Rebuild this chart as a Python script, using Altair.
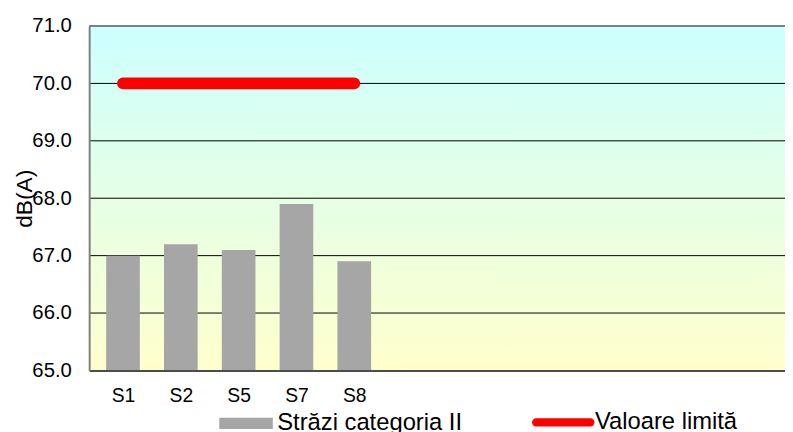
import altair as alt
import pandas as pd

# ---- data ----
categories = ["S1", "S2", "S5", "S7", "S8"]
levels = [67.0, 67.2, 67.1, 67.9, 66.9]
limit_values = [70.0, 70.0, 70.0, 70.0, 70.0]
y_ticks = [65, 66, 67, 68, 69, 70, 71]
Y_MIN, Y_MAX = 65, 71
# category slots: 12 slots, the last one is cut by the picture's right edge
X_DOMAIN = [-0.5, 11.365]
bar_series = "Străzi categoria II"
line_series = "Valoare limită"

FONT = "Liberation Sans"
W, H = 703, 348

idx = list(range(len(categories)))
bars_df = pd.DataFrame({"i": idx, "cat": categories, "val": levels, "series": bar_series})
line_df = pd.DataFrame({"i": idx, "cat": categories, "val": limit_values, "series": line_series})
grid_df = pd.DataFrame({"v": [t for t in y_ticks if Y_MIN < t < Y_MAX]})

cat_array = "[" + ",".join("'" + c + "'" for c in categories) + "]"

x_scale = alt.Scale(domain=X_DOMAIN, nice=False, zero=False)
y_scale = alt.Scale(domain=[Y_MIN, Y_MAX], zero=False, nice=False)

x_axis = alt.Axis(title=None, ticks=False, grid=False, values=idx,
                  labelExpr=cat_array + "[datum.value]",
                  labelFontSize=19.5, labelFont=FONT, labelColor="black",
                  labelPadding=16, labelAngle=0, labelFlush=False, labelOverlap=False,
                  domainColor="#4d4d4d", domainWidth=2, zindex=1)
y_axis = alt.Axis(title="dB(A)", values=y_ticks, format=".1f", ticks=False, grid=False,
                  labelFontSize=20.5, labelFont=FONT, labelColor="black", labelPadding=18,
                  domainColor="#808080", domainWidth=2, zindex=1,
                  titleFont=FONT, titleFontSize=23, titleFontWeight="normal", titleColor="black",
                  titleAngle=270, titleBaseline="middle", titleAlign="center",
                  titleX=-65, titleY=174)

gradient = alt.Gradient(
    gradient="linear",
    stops=[alt.GradientStop(color="#CCFFFF", offset=0),
           alt.GradientStop(color="#FFFFCC", offset=1)],
    x1=0, x2=0, y1=0, y2=1,
)

bg = alt.Chart(pd.DataFrame({"a": [0]})).mark_rect(fill=gradient).encode(
    x=alt.value(0), x2=alt.value("width"), y=alt.value(0), y2=alt.value("height")
)

grid = alt.Chart(grid_df).mark_rule(color="black", strokeWidth=1).encode(
    y=alt.Y("v:Q", scale=y_scale, axis=y_axis)
)

top_border = alt.Chart(pd.DataFrame({"a": [0]})).mark_rule(color="#808080", strokeWidth=2).encode(
    y=alt.datum(Y_MAX, scale=y_scale)
)

rect_path = "M-1,-0.2115H1V0.2115H-1Z"
capsule_path = ("M-0.869,-0.131H0.869A0.131,0.131 0 0 1 0.869,0.131"
                "H-0.869A0.131,0.131 0 0 1 -0.869,-0.131Z")

bars = alt.Chart(bars_df).mark_bar(size=34).encode(
    x=alt.X("i:Q", scale=x_scale, axis=x_axis),
    y=alt.Y("val:Q", scale=y_scale),
    y2=alt.datum(Y_MIN),
    fill=alt.Fill("series:N", scale=alt.Scale(domain=[bar_series], range=["#A6A6A6"]),
                  legend=alt.Legend(title=None, orient="none", legendX=131, legendY=374,
                                    symbolType=rect_path, symbolSize=2925, symbolStrokeWidth=0,
                                    labelFont=FONT, labelFontSize=24, labelColor="black",
                                    labelOffset=4, labelLimit=0, padding=0)),
)

line = alt.Chart(line_df).mark_line(strokeWidth=12, strokeCap="round").encode(
    x=alt.X("i:Q", scale=x_scale),
    y=alt.Y("val:Q", scale=y_scale),
    stroke=alt.Stroke("series:N", scale=alt.Scale(domain=[line_series], range=["#FF0000"]),
                      legend=alt.Legend(title=None, orient="none", legendX=447, legendY=368.5,
                                        symbolType=capsule_path, symbolSize=3980,
                                        symbolFillColor="#FF0000", symbolStrokeWidth=0,
                                        labelFont=FONT, labelFontSize=24, labelColor="black",
                                        labelOffset=0, labelLimit=0, padding=0)),
)

chart = alt.layer(bg, grid, top_border, bars, line).properties(
    width=W, height=H,
    padding={"left": 82, "top": 16, "right": 0, "bottom": 60},
    autosize=alt.AutoSizeParams(type="none"),
).configure_view(stroke=None)

chart.save("out.html", embed_options={"renderer": "svg", "actions": False})
